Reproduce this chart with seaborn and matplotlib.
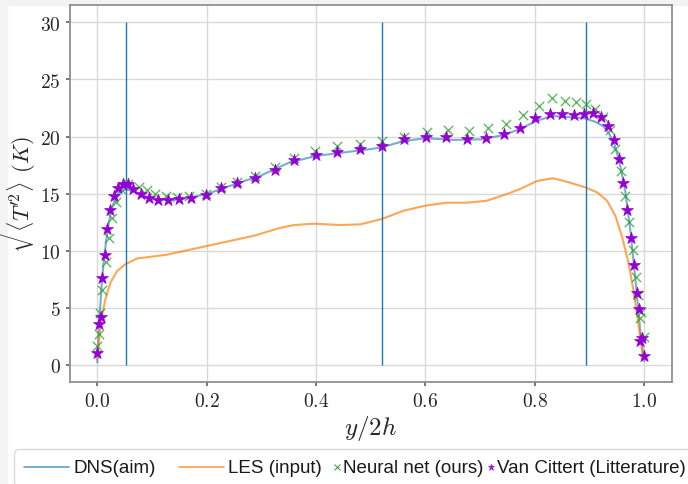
import numpy as np
import pandas as pd
import matplotlib
matplotlib.use("Agg")
import matplotlib.pyplot as plt
from matplotlib.ticker import FuncFormatter, MultipleLocator
from matplotlib.patches import Rectangle
from matplotlib.lines import Line2D
from matplotlib.offsetbox import DrawingArea, TextArea, HPacker, AnchoredOffsetbox
import seaborn as sns

# DNS reference profile
dns_x = [0.0, 0.003, 0.007, 0.01, 0.015, 0.02, 0.025, 0.03, 0.04, 0.05, 0.06, 0.08,
         0.10, 0.13, 0.16, 0.20, 0.25, 0.30, 0.35, 0.40, 0.45, 0.50, 0.52, 0.56,
         0.60, 0.65, 0.70, 0.74, 0.77, 0.80, 0.83, 0.86, 0.89, 0.91, 0.925, 0.935,
         0.945, 0.955, 0.965, 0.975, 0.985, 0.993, 1.0]
dns_y = [0.2, 3.4, 6.4, 8.2, 10.4, 12.2, 13.4, 14.2, 15.0, 15.35, 15.3, 14.9,
         14.55, 14.45, 14.55, 14.95, 15.8, 16.6, 17.7, 18.3, 18.6, 18.9, 19.05, 19.6,
         19.85, 19.7, 19.75, 20.1, 20.6, 21.3, 21.8, 21.7, 21.6, 21.3, 20.9, 20.3,
         19.4, 17.7, 15.3, 11.6, 6.9, 2.8, 0.3]

# LES input profile
les_x = [0.0, 0.006, 0.015, 0.024, 0.036, 0.051, 0.072, 0.127, 0.20, 0.286,
         0.335, 0.36, 0.396, 0.444, 0.481, 0.52, 0.56, 0.60, 0.639, 0.676, 0.712,
         0.749, 0.773, 0.804, 0.833, 0.858, 0.892, 0.914, 0.932, 0.947, 0.959,
         0.971, 0.98, 0.989, 0.997]
les_y = [0.5, 3.7, 5.8, 7.2, 8.2, 8.8, 9.3, 9.64, 10.4, 11.3,
         12.0, 12.24, 12.36, 12.24, 12.3, 12.77, 13.5, 13.94, 14.2, 14.2, 14.37,
         14.96, 15.4, 16.1, 16.34, 16.04, 15.55, 15.1, 14.37, 13.06, 11.3,
         8.97, 6.6, 3.7, 0.8]

# Neural net predictions
nn_x = [0.0, 0.003, 0.005, 0.009, 0.016, 0.021, 0.027, 0.034, 0.044, 0.056,
        0.076, 0.090, 0.106, 0.126, 0.145, 0.168, 0.199, 0.226, 0.256, 0.289,
        0.324, 0.360, 0.398, 0.438, 0.480, 0.521, 0.561, 0.602, 0.642, 0.680,
        0.715, 0.748, 0.778, 0.807, 0.832, 0.855, 0.876, 0.894, 0.910, 0.925,
        0.937, 0.947, 0.957, 0.965, 0.973, 0.979, 0.984, 0.989, 0.992, 0.994, 1.0]
nn_y = [1.6, 2.7, 4.5, 6.55, 8.97, 11.1, 12.86, 14.3, 15.4, 15.84,
        15.55, 15.3, 15.0, 14.76, 14.72, 14.76, 14.96, 15.55, 16.0, 16.56,
        17.35, 18.1, 18.7, 19.14, 19.37, 19.63, 19.96, 20.42, 20.54, 20.45,
        20.72, 21.1, 21.9, 22.7, 23.35, 23.14, 23.05, 22.85, 22.4, 21.7,
        20.6, 18.9, 16.95, 14.8, 12.5, 10.05, 7.66, 6.1, 4.1, 4.6, 2.45]

# Van Cittert deconvolution
vc_x = [0.0, 0.003, 0.007, 0.009, 0.014, 0.018, 0.024, 0.030, 0.037, 0.046,
        0.056, 0.066, 0.080, 0.094, 0.111, 0.129, 0.149, 0.172, 0.199, 0.226,
        0.256, 0.289, 0.324, 0.360, 0.399, 0.439, 0.480, 0.520, 0.561, 0.601,
        0.638, 0.676, 0.711, 0.743, 0.772, 0.801, 0.827, 0.850, 0.871, 0.889,
        0.906, 0.920, 0.933, 0.944, 0.953, 0.962, 0.969, 0.976, 0.981, 0.986,
        0.990, 0.993, 0.995, 0.999]
vc_y = [1.03, 3.57, 4.15, 7.63, 9.6, 11.9, 13.6, 14.8, 15.5, 15.85,
        15.8, 15.4, 14.96, 14.6, 14.46, 14.46, 14.5, 14.6, 14.9, 15.45,
        15.9, 16.4, 17.1, 17.9, 18.4, 18.67, 18.88, 19.2, 19.75, 19.96,
        19.98, 19.8, 19.9, 20.25, 20.75, 21.6, 22.0, 22.0, 21.9, 22.0,
        22.06, 21.7, 20.95, 19.7, 18.0, 15.95, 13.6, 11.1, 8.74, 6.3,
        4.9, 2.1, 2.35, 0.74]

vline_pos = [0.052, 0.52, 0.894]
vline_top = 30

labels = ["DNS(aim)", "LES (input)", "Neural net (ours)", "Van Cittert (Litterature)"]

sns.set_theme(style="whitegrid")
plt.rcParams["mathtext.fontset"] = "cm"
plt.rcParams["axes.edgecolor"] = "0.55"
plt.rcParams["grid.color"] = "0.85"
plt.rcParams["xtick.bottom"] = True
plt.rcParams["ytick.left"] = True
plt.rcParams["xtick.color"] = "0.4"
plt.rcParams["ytick.color"] = "0.4"
plt.rcParams["xtick.major.size"] = 3
plt.rcParams["ytick.major.size"] = 3

fig = plt.figure(figsize=(6.88, 4.85), dpi=100)
ax = fig.add_axes([70 / 688, 1 - 382.8 / 485, 601.6 / 688, (382.8 - 6.3) / 485])

# light screenshot frame
fig.add_artist(Rectangle((0, 0), 7 / 688, 1, transform=fig.transFigure,
                         color="#f3f3f3", zorder=-5))
fig.add_artist(Rectangle((0, 1 - 6 / 485), 1, 6 / 485, transform=fig.transFigure,
                         color="#f3f3f3", zorder=-5))

dns = pd.DataFrame({"x": dns_x, "y": dns_y})
les = pd.DataFrame({"x": les_x, "y": les_y})
nn = pd.DataFrame({"x": nn_x, "y": nn_y})
vc = pd.DataFrame({"x": vc_x, "y": vc_y})

blue, orange, green, violet = "tab:blue", "tab:orange", "tab:green", "darkviolet"

sns.lineplot(data=dns, x="x", y="y", ax=ax, color=blue, alpha=0.6, lw=1.5, sort=False)
sns.lineplot(data=les, x="x", y="y", ax=ax, color=orange, alpha=0.7, lw=1.5, sort=False)
sns.scatterplot(data=nn, x="x", y="y", ax=ax, marker="x", color=green,
                alpha=0.75, s=45, linewidth=1.0, zorder=3)
sns.scatterplot(data=vc, x="x", y="y", ax=ax, marker="*", color=violet,
                edgecolor=violet, s=80, linewidth=0.5, zorder=4)
ax.vlines(vline_pos, 0, vline_top, color=blue, lw=1.0)

ax.xaxis.set_major_locator(MultipleLocator(0.2))
ax.yaxis.set_major_locator(MultipleLocator(5))
ax.xaxis.set_major_formatter(FuncFormatter(lambda v, p: r"$%.1f$" % v))
ax.yaxis.set_major_formatter(FuncFormatter(lambda v, p: r"$%d$" % round(v)))
ax.tick_params(labelsize=14, labelcolor="0.15")
ax.set_xlabel(r"$y/2h$", fontsize=18, color="0.15", labelpad=2)
ax.set_ylabel(r"$\sqrt{\langle T^{\prime 2}\rangle}\ (K)$", fontsize=16,
              color="0.15", labelpad=2)

# legend built by hand: long line handles, tight marker handles
txt_props = dict(family="Liberation Sans", size=13.5, color="0.1")


def line_handle(color, alpha):
    da = DrawingArea(32.4, 10, 0, 0)
    da.add_artist(Line2D([0, 32.4], [5, 5], color=color, alpha=alpha, lw=1.2))
    return da


def marker_handle(marker, color, ms, mew):
    da = DrawingArea(7, 10, 0, 0)
    da.add_artist(Line2D([3.5], [5], ls="none", marker=marker, color=color,
                         ms=ms, mew=mew, alpha=0.9))
    return da


handles = [line_handle(blue, 0.7), line_handle(orange, 0.75),
           marker_handle("x", green, 4, 0.8), marker_handle("*", violet, 5, 0.5)]
entries = [HPacker(children=[hd, TextArea(lb, textprops=txt_props)], sep=s, align="center")
           for hd, lb, s in zip(handles, labels, [3, 3, 1, 1])]
row = HPacker(children=[HPacker(children=entries[:2], sep=17, align="center"),
                        HPacker(children=entries[2:], sep=2, align="center")],
              sep=7, align="center")
box = AnchoredOffsetbox(loc="upper left", child=row, pad=0.65, borderpad=0,
                        frameon=True, bbox_to_anchor=(14 / 688, 1 - 450 / 485),
                        bbox_transform=fig.transFigure)
box.patch.set_boxstyle("round,pad=0,rounding_size=0.3")
box.patch.set_edgecolor("0.85")
box.patch.set_facecolor("white")
fig.add_artist(box)

fig.savefig("out.png", dpi=100)
